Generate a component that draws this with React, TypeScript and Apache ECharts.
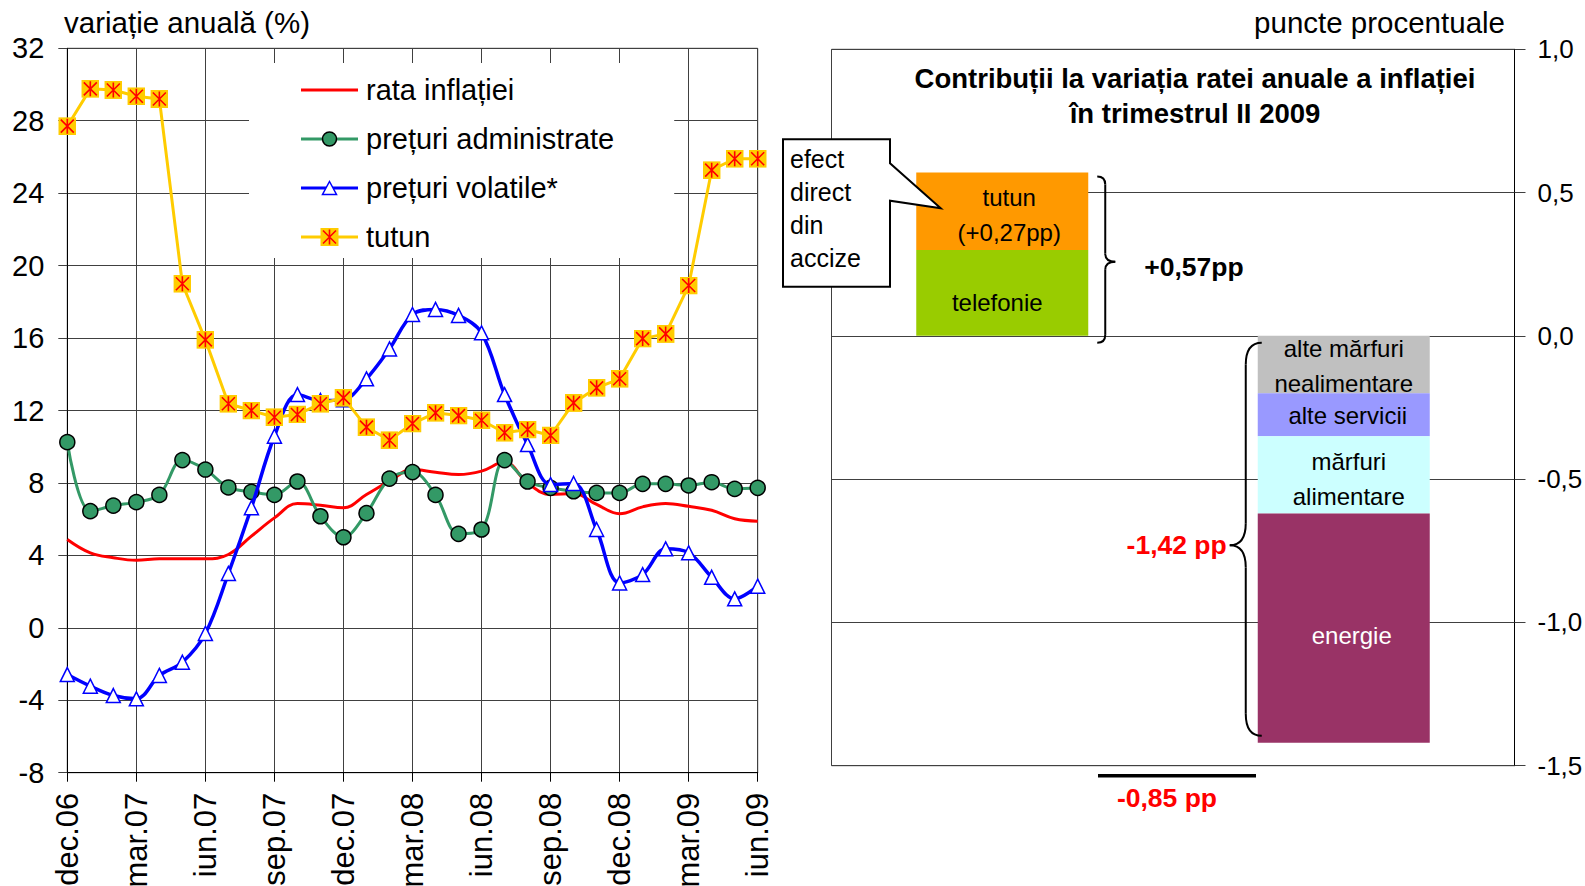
import React, { useEffect, useRef } from 'react';
import * as echarts from 'echarts';

// ---------- data: left panel ----------
const months = [
  'dec.06', 'ian.07', 'feb.07', 'mar.07', 'apr.07', 'mai.07', 'iun.07', 'iul.07', 'aug.07', 'sep.07', 'oct.07', 'noi.07',
  'dec.07', 'ian.08', 'feb.08', 'mar.08', 'apr.08', 'mai.08', 'iun.08', 'iul.08', 'aug.08', 'sep.08', 'oct.08', 'noi.08',
  'dec.08', 'ian.09', 'feb.09', 'mar.09', 'apr.09', 'mai.09', 'iun.09',
];
const inflationRate = [
  4.88, 4.14, 3.87, 3.73, 3.81, 3.81, 3.81, 4.05, 5.06, 6.07, 6.86, 6.77,
  6.63, 7.36, 8.1, 8.74, 8.59, 8.46, 8.65, 9.15, 8.0, 7.36, 7.41, 6.81,
  6.3, 6.68, 6.86, 6.71, 6.49, 6.02, 5.89,
];
const administeredPrices = [
  10.25, 6.44, 6.75, 6.94, 7.34, 9.26, 8.74, 7.75, 7.51, 7.34, 8.08, 6.16,
  5.0, 6.33, 8.24, 8.6, 7.34, 5.19, 5.43, 9.26, 8.08, 7.73, 7.54, 7.45,
  7.45, 7.95, 7.95, 7.86, 8.04, 7.67, 7.73,
];
const volatilePrices = [
  -2.58, -3.22, -3.74, -3.92, -2.63, -1.9, -0.31, 3.0, 6.63, 10.58, 12.88, 12.55,
  12.6, 13.75, 15.4, 17.3, 17.58, 17.25, 16.29, 12.88, 10.12, 7.91, 7.97, 5.43,
  2.48, 2.94, 4.36, 4.14, 2.79, 1.6, 2.3,
];
const tobacco = [
  27.7, 29.76, 29.7, 29.35, 29.2, 19.0, 15.9, 12.37, 12.0, 11.63, 11.78, 12.37,
  12.7, 11.08, 10.36, 11.28, 11.87, 11.72, 11.46, 10.77, 10.95, 10.62, 12.42, 13.25,
  13.75, 15.97, 16.23, 18.9, 25.27, 25.9, 25.9,
];
const seriesNames = ['rata inflației', 'prețuri administrate', 'prețuri volatile*', 'tutun'];

// ---------- data: right panel ----------
const contribSlots = ['', 'contribuții pozitive', 'efect net', 'contribuții negative', ''];
const posNames = ['telefonie', 'tutun'];
const posValues = [0.3, 0.27];
const negNames = ['alte mărfuri nealimentare', 'alte servicii', 'mărfuri alimentare', 'energie'];
const negValues = [-0.2, -0.15, -0.27, -0.8];
const calloutLines = ['efect', 'direct', 'din', 'accize'];
const rightTitle = ['Contribuții la variația ratei anuale a inflației', 'în trimestrul II 2009'];

const fmt = (v: number, d: number) => v.toFixed(d).replace('.', ',');
const sum = (a: number[]) => a.reduce((s, v) => s + v, 0);

const posLabels = ['telefonie', `tutun\n(+${fmt(posValues[1], 2)}pp)`];
const negLabels = ['alte mărfuri\nnealimentare', 'alte servicii', 'mărfuri\nalimentare', 'energie'];

// ---------- styles ----------
const FONT = 'Liberation Sans, Arial, sans-serif';
const GRID_COLOR = '#404040';
const posColors = ['#99CC00', '#FF9900'];
const negColors = ['#C0C0C0', '#9999FF', '#CCFFFF', '#993366'];
const posLabelStyle = [
  { color: '#000', offset: [-5, 10] },
  { color: '#000', offset: [7, 4] },
];
const negLabelStyle = [
  { color: '#000', offset: [0, 1] },
  { color: '#000', offset: [4, 1] },
  { color: '#000', offset: [5, 4] },
  { color: '#fff', offset: [8, 7] },
];

const svgUrl = (s: string) => 'image://data:image/svg+xml;charset=utf-8,' + encodeURIComponent(s);
const star = (cx: number, cy: number) =>
  `<rect x="${cx - 9}" y="${cy - 9}" width="18" height="18" fill="#FFCC00"/>` +
  `<path d="M${cx} ${cy - 7.5}V${cy + 7.5}M${cx - 6.5} ${cy - 6.5}L${cx + 6.5} ${cy + 6.5}M${cx + 6.5} ${cy - 6.5}L${cx - 6.5} ${cy + 6.5}" stroke="#FF0000" stroke-width="1.6" fill="none"/>`;
const tobaccoSymbol = svgUrl(
  `<svg xmlns="http://www.w3.org/2000/svg" width="18" height="18" viewBox="0 0 18 18">${star(9, 9)}</svg>`
);
const legLine = (c: string) => `<line x1="0" y1="10" x2="57" y2="10" stroke="${c}" stroke-width="3"/>`;
const legWrap = (inner: string) =>
  svgUrl(`<svg xmlns="http://www.w3.org/2000/svg" width="57" height="20" viewBox="0 0 57 20">${inner}</svg>`);
const legendIcons = [
  legWrap(legLine('#FF0000')),
  legWrap(legLine('#339966') + '<circle cx="28.5" cy="10" r="7" fill="#339966" stroke="#000" stroke-width="1.5"/>'),
  legWrap(legLine('#0000FF') + '<polygon points="28.5,3.5 35.5,16.5 21.5,16.5" fill="#fff" stroke="#0000FF" stroke-width="1.5"/>'),
  legWrap(legLine('#FFCC00') + star(28.5, 10)),
];

function brace(xEnd: number, xSpine: number, xTip: number, yTop: number, yMid: number, yBot: number, r: number) {
  const st = { stroke: '#000', lineWidth: 2, fill: 'none' };
  const z = 100;
  return [
    { type: 'bezierCurve', z, shape: { x1: xEnd, y1: yTop, x2: xSpine, y2: yTop + r, cpx1: xSpine, cpy1: yTop }, style: st },
    { type: 'line', z, shape: { x1: xSpine, y1: yTop + r, x2: xSpine, y2: yMid - r }, style: st },
    { type: 'bezierCurve', z, shape: { x1: xSpine, y1: yMid - r, x2: xTip, y2: yMid, cpx1: xSpine, cpy1: yMid }, style: st },
    { type: 'bezierCurve', z, shape: { x1: xTip, y1: yMid, x2: xSpine, y2: yMid + r, cpx1: xSpine, cpy1: yMid }, style: st },
    { type: 'line', z, shape: { x1: xSpine, y1: yMid + r, x2: xSpine, y2: yBot - r }, style: st },
    { type: 'bezierCurve', z, shape: { x1: xSpine, y1: yBot - r, x2: xEnd, y2: yBot, cpx1: xSpine, cpy1: yBot }, style: st },
  ];
}

function txt(text: string, x: number, y: number, o: any) {
  const align = o.align || 'left';
  return {
    type: 'text',
    z: 110,
    style: {
      text, x, y,
      fill: o.fill || '#000',
      fontSize: o.fontSize || 24,
      fontWeight: o.fontWeight || 'normal',
      fontFamily: FONT,
      lineHeight: o.lineHeight,
      align, textAlign: align,
      verticalAlign: 'middle', textVerticalAlign: 'middle',
    },
  };
}

export default function App() {
  const ref = useRef<HTMLDivElement>(null);
  useEffect(() => {
    if (!ref.current) return;
    const chart = echarts.init(ref.current, null, { renderer: 'svg' });

    const lineCommon = { type: 'line', xAxisIndex: 0, yAxisIndex: 0, showAllSymbol: true, emphasis: { disabled: true } };
    const series: any[] = [
      { ...lineCommon, name: seriesNames[0], data: inflationRate, smooth: 0.4, symbol: 'none',
        lineStyle: { color: '#FF0000', width: 3 }, itemStyle: { color: '#FF0000' }, z: 2 },
      { ...lineCommon, name: seriesNames[1], data: administeredPrices, smooth: 0.35, symbol: 'circle', symbolSize: 15,
        lineStyle: { color: '#339966', width: 3 }, itemStyle: { color: '#339966', borderColor: '#000', borderWidth: 1.5 }, z: 3 },
      { ...lineCommon, name: seriesNames[2], data: volatilePrices, smooth: 0.35, symbol: 'triangle', symbolSize: 14,
        lineStyle: { color: '#0000FF', width: 3.5 }, itemStyle: { color: '#fff', borderColor: '#0000FF', borderWidth: 1.5 }, z: 4 },
      { ...lineCommon, name: seriesNames[3], data: tobacco, smooth: false, symbol: tobaccoSymbol, symbolSize: 18,
        lineStyle: { color: '#FFCC00', width: 3 }, itemStyle: { color: '#FFCC00' }, z: 5 },
    ];
    const barCommon = { type: 'bar', xAxisIndex: 1, yAxisIndex: 1, stack: 'contrib', barWidth: 172, emphasis: { disabled: true } };
    posNames.forEach((n, i) => {
      series.push({
        ...barCommon, name: n,
        data: contribSlots.map((_, k) => (k === 1 ? posValues[i] : null)),
        itemStyle: { color: posColors[i] },
        label: { show: true, position: 'inside', formatter: posLabels[i], fontSize: 24, lineHeight: 35,
          fontFamily: FONT, color: posLabelStyle[i].color, offset: posLabelStyle[i].offset },
      });
    });
    negNames.forEach((n, i) => {
      series.push({
        ...barCommon, name: n,
        data: contribSlots.map((_, k) => (k === 3 ? negValues[i] : null)),
        itemStyle: { color: negColors[i] },
        label: { show: true, position: 'inside', formatter: negLabels[i], fontSize: 24, lineHeight: 35,
          fontFamily: FONT, color: negLabelStyle[i].color, offset: negLabelStyle[i].offset },
      });
    });

    const option: any = {
      animation: false,
      backgroundColor: '#fff',
      textStyle: { fontFamily: FONT },
      legend: {
        orient: 'vertical',
        left: 249, top: 63,
        padding: [12, 60, 6, 52],
        backgroundColor: '#fff',
        itemWidth: 57, itemHeight: 20, itemGap: 19,
        selectedMode: false,
        textStyle: { fontSize: 29, lineHeight: 30, color: '#000', fontFamily: FONT, padding: [0, 0, 0, 3] },
        data: seriesNames.map((n, i) => ({ name: n, icon: legendIcons[i] })),
        z: 4,
      },
      grid: [
        { left: 67.3, top: 48.3, width: 690.4, height: 724.4, show: true, borderColor: GRID_COLOR, borderWidth: 1,
          containLabel: false, outerBoundsMode: 'none' },
        { left: 831.5, top: 49.3, width: 683, height: 716.4, show: true, borderColor: GRID_COLOR, borderWidth: 1,
          containLabel: false, outerBoundsMode: 'none' },
      ],
      xAxis: [
        {
          type: 'category', gridIndex: 0, data: months, boundaryGap: false,
          axisLine: { onZero: false, lineStyle: { color: '#000', width: 1 } },
          axisTick: { show: true, interval: 2, length: 9, lineStyle: { color: '#000' } },
          axisLabel: { interval: 2, rotate: 90, fontSize: 31, margin: 20, color: '#000', fontFamily: FONT },
          splitLine: { show: true, interval: 2, lineStyle: { color: GRID_COLOR, width: 1 } },
        },
        {
          type: 'category', gridIndex: 1, data: contribSlots, boundaryGap: false, show: false,
          axisLine: { onZero: false },
        },
      ],
      yAxis: [
        {
          type: 'value', gridIndex: 0, min: -8, max: 32, interval: 4,
          axisLine: { show: true, lineStyle: { color: '#000', width: 1 } },
          axisTick: { show: true, length: 9, lineStyle: { color: GRID_COLOR } },
          axisLabel: { fontSize: 29, margin: 23, color: '#000', fontFamily: FONT },
          splitLine: { show: true, lineStyle: { color: GRID_COLOR, width: 1 } },
        },
        {
          type: 'value', gridIndex: 1, position: 'right', min: -1.5, max: 1, interval: 0.5,
          axisLine: { show: true, lineStyle: { color: '#000', width: 1 } },
          axisTick: { show: true, length: 11, lineStyle: { color: GRID_COLOR } },
          axisLabel: { fontSize: 26, margin: 23, color: '#000', fontFamily: FONT, formatter: (v: number) => fmt(v, 1) },
          splitLine: { show: true, lineStyle: { color: GRID_COLOR, width: 1 } },
        },
      ],
      series,
    };
    chart.setOption(option);

    // annotations positioned through the library's scales
    const px = (cat: number, v: number) => chart.convertToPixel({ xAxisIndex: 1, yAxisIndex: 1 }, [cat, v]) as number[];
    const posTotal = sum(posValues);
    const negTotal = sum(negValues);
    const net = posTotal + negTotal;
    const [cx1, yPosTop] = px(1, posTotal);
    const [, yZero] = px(1, 0);
    const [cx2] = px(2, 0);
    const [cx3, yNegBot] = px(3, negTotal);
    const [, yBottom] = px(2, -1.5);
    const [, yTopAxis] = px(2, 1);
    const half = 86;

    const pb = { xEnd: cx1 + half + 9, yTop: yPosTop + 4, yBot: yZero + 7 };
    const pbMid = (pb.yTop + pb.yBot) / 2 + 2;
    const nb = { xEnd: cx3 - half + 4, yTop: yZero + 7, yBot: yNegBot - 7 };
    const nbMid = (nb.yTop + nb.yBot) / 2 + 6;

    const graphics: any[] = [
      txt('variație anuală (%)', 64, 22, { fontSize: 29.5 }),
      txt('puncte procentuale', 1505, 22, { fontSize: 29.5, align: 'right' }),
      txt(rightTitle.join('\n'), 1195, yTopAxis + 46.5, { fontSize: 27.5, fontWeight: 'bold', lineHeight: 35, align: 'center' }),
      {
        type: 'polygon', z: 100,
        shape: { points: [[783, 139.3], [890, 139.3], [890, 163.3], [940.7, 208.3], [890, 200.7], [890, 286.7], [783, 286.7]] },
        style: { fill: '#fff', stroke: '#000', lineWidth: 2 },
      },
      txt(calloutLines.join('\n'), 790, 208.5, { fontSize: 25, lineHeight: 33.3 }),
      ...brace(pb.xEnd, pb.xEnd + 8, pb.xEnd + 18, pb.yTop, pbMid, pb.yBot, 8),
      txt(`+${fmt(posTotal, 2)}pp`, pb.xEnd + 47, pbMid + 5, { fontSize: 26.5, fontWeight: 'bold' }),
      ...brace(nb.xEnd, nb.xEnd - 16, nb.xEnd - 32, nb.yTop, nbMid, nb.yBot, 22),
      txt(`${fmt(negTotal, 2)} pp`, nb.xEnd - 35, nbMid, { fontSize: 26.5, fontWeight: 'bold', fill: '#FF0000', align: 'right' }),
      {
        type: 'line', z: 100,
        shape: { x1: cx2 - 75, y1: yBottom + 10, x2: cx2 + 83, y2: yBottom + 10 },
        style: { stroke: '#000', lineWidth: 3.5 },
      },
      txt(`${fmt(net, 2)} pp`, cx2 - 6, yBottom + 32.5, { fontSize: 26.5, fontWeight: 'bold', fill: '#FF0000', align: 'center' }),
    ];
    chart.setOption({ graphic: { elements: graphics } });

    return () => chart.dispose();
  }, []);

  return <div ref={ref} style={{ position: 'fixed', left: 0, top: 0, width: 1585, height: 886, background: '#fff' }} />;
}
